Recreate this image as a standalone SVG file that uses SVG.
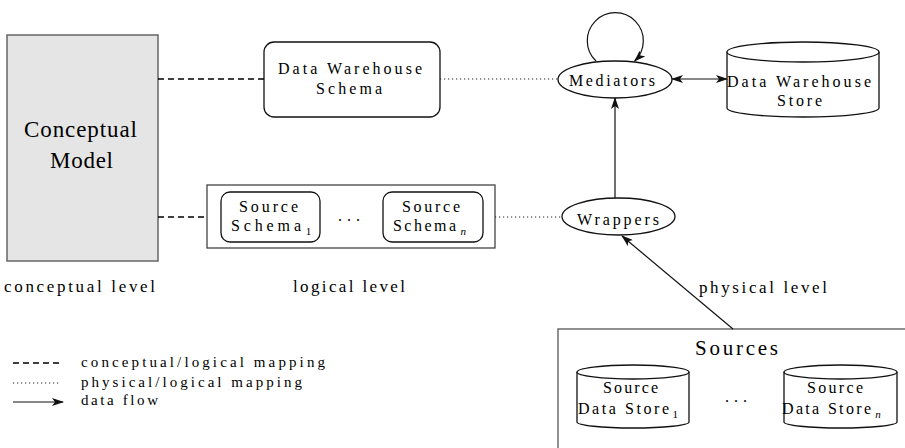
<svg xmlns="http://www.w3.org/2000/svg" width="905" height="448" viewBox="0 0 905 448" font-family="Liberation Serif, DejaVu Serif, Times New Roman, serif">
<style>
text{font-family:'Liberation Serif','DejaVu Serif','Times New Roman',serif;fill:#000;}
.t15{font-size:16px;}
.t14{font-size:15px;}
.t16{font-size:17px;}
.shape{fill:#fff;stroke:#111;stroke-width:1.3;}
.dash{stroke:#000;stroke-width:1.3;stroke-dasharray:6 4;fill:none;}
.dot{stroke:#222;stroke-width:1.1;stroke-dasharray:1.2 2.8;fill:none;}
.flow{stroke:#111;stroke-width:1.2;fill:none;}
.sub{font-size:11px;}
</style>
<defs>
<marker id="ah" viewBox="0 0 12 8" refX="11" refY="4" markerWidth="12" markerHeight="8" markerUnits="userSpaceOnUse" orient="auto-start-reverse">
<path d="M0,0 L12,4 L0,8 L3,4 z" fill="#111"/>
</marker>
</defs>

<g id="conceptual-model">
<rect x="7" y="35" width="151" height="226" fill="#e5e5e5" stroke="#666" stroke-width="1.5"/>
<text x="24" y="137" font-size="23" textLength="113" lengthAdjust="spacing">Conceptual</text>
<text x="50" y="168" font-size="23" textLength="63" lengthAdjust="spacing">Model</text>
</g>

<g id="dw-schema">
<rect class="shape" x="264" y="42" width="176" height="75" rx="10"/>
<text class="t15" x="278" y="74" textLength="144" lengthAdjust="spacing">Data Warehouse</text>
<text class="t15" x="316" y="94" textLength="66" lengthAdjust="spacing">Schema</text>
</g>

<g id="mediators">
<ellipse class="shape" cx="615" cy="79.5" rx="57" ry="18.5"/>
<text class="t15" x="569" y="86" textLength="86" lengthAdjust="spacing">Mediators</text>
</g>

<g id="dw-store">
<path class="shape" d="M727,52 L727,108 A76,9 0 0 0 879,108 L879,52"/>
<ellipse class="shape" cx="803" cy="52" rx="76" ry="10"/>
<text class="t15" x="727" y="87" textLength="144" lengthAdjust="spacing">Data Warehouse</text>
<text class="t15" x="777" y="106" textLength="45" lengthAdjust="spacing">Store</text>
</g>

<g id="source-schemas">
<rect x="207" y="185" width="288" height="63" fill="#fff" stroke="#444" stroke-width="1.3"/>
<text class="t15" x="338" y="221" letter-spacing="5">...</text>
</g>

<g id="source-schema-1">
<rect class="shape" x="221" y="192" width="99" height="50" rx="9"/>
<text class="t15" x="239" y="211.5" textLength="59" lengthAdjust="spacing">Source</text>
<text class="t15" x="231" y="230.5"><tspan textLength="70" lengthAdjust="spacing">Schema</tspan><tspan class="sub" dx="1" dy="4">1</tspan></text>
</g>

<g id="source-schema-n">
<rect class="shape" x="383" y="192" width="100" height="50" rx="9"/>
<text class="t15" x="402" y="211.5" textLength="58" lengthAdjust="spacing">Source</text>
<text class="t15" x="393" y="230.5"><tspan textLength="63" lengthAdjust="spacing">Schema</tspan><tspan class="sub" dx="2" dy="4" font-style="italic" font-size="12">n</tspan></text>
</g>

<g id="wrappers">
<ellipse class="shape" cx="618.5" cy="216.5" rx="56.5" ry="18.5"/>
<text class="t15" x="577" y="225" textLength="82" lengthAdjust="spacing">Wrappers</text>
</g>

<g id="sources">
<rect x="558" y="329" width="360" height="130" fill="#fff" stroke="#555" stroke-width="1.3"/>
<text x="695" y="355" font-size="21" textLength="83" lengthAdjust="spacing">Sources</text>
<text class="t15" x="725" y="402" letter-spacing="5">...</text>
</g>

<g id="source-store-1">
<path class="shape" d="M577,372 L577,422 A56,6 0 0 0 689,422 L689,372"/>
<ellipse class="shape" cx="633" cy="372" rx="56" ry="7"/>
<text class="t15" x="603" y="392.5" textLength="55" lengthAdjust="spacing">Source</text>
<text class="t15" x="578" y="414"><tspan textLength="91" lengthAdjust="spacing">Data Store</tspan><tspan class="sub" dx="1" dy="4">1</tspan></text>
</g>

<g id="source-store-n">
<path class="shape" d="M784,372 L784,422 A56.5,6 0 0 0 897,422 L897,372"/>
<ellipse class="shape" cx="840.5" cy="372" rx="56.5" ry="7"/>
<text class="t15" x="807" y="392.5" textLength="56" lengthAdjust="spacing">Source</text>
<text class="t15" x="782" y="414"><tspan textLength="89" lengthAdjust="spacing">Data Store</tspan><tspan class="sub" dx="2" dy="4" font-style="italic" font-size="12">n</tspan></text>
</g>

<g id="connectors">
<line class="dash" x1="158" y1="79" x2="264" y2="79"/>
<line class="dash" x1="158" y1="217" x2="207" y2="217"/>
<line class="dot" x1="440" y1="79" x2="558" y2="79"/>
<line class="dot" x1="495" y1="217" x2="562" y2="217"/>
<path class="flow" d="M596,61 A28,28 0 1 1 634.6,61" marker-end="url(#ah)"/>
<line class="flow" x1="672" y1="79" x2="727" y2="79" marker-start="url(#ah)" marker-end="url(#ah)"/>
<line class="flow" x1="615" y1="198" x2="615" y2="98" marker-end="url(#ah)"/>
<line class="flow" x1="733" y1="329" x2="622" y2="236" marker-end="url(#ah)"/>
</g>

<g id="labels">
<text class="t16" x="4" y="292" textLength="151" lengthAdjust="spacing">conceptual level</text>
<text class="t16" x="293" y="292" textLength="112" lengthAdjust="spacing">logical level</text>
<text class="t16" x="699" y="293" textLength="128" lengthAdjust="spacing">physical level</text>
</g>

<g id="legend">
<line class="dash" x1="13" y1="363" x2="60" y2="363"/>
<line class="dot" x1="13" y1="383" x2="60" y2="383"/>
<line class="flow" x1="13" y1="402" x2="63" y2="402" marker-end="url(#ah)"/>
<text class="t14" x="81" y="367" textLength="244" lengthAdjust="spacing">conceptual/logical mapping</text>
<text class="t14" x="81" y="387" textLength="221" lengthAdjust="spacing">physical/logical mapping</text>
<text class="t14" x="81" y="405" textLength="77" lengthAdjust="spacing">data flow</text>
</g>
</svg>
